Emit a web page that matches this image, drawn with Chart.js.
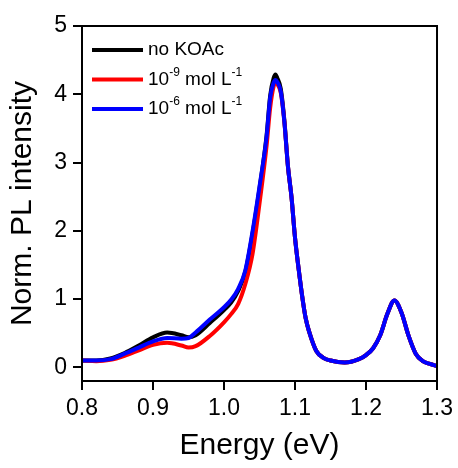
<!DOCTYPE html>
<html>
<head>
<meta charset="utf-8">
<script src="https://cdn.jsdelivr.net/npm/chart.js@4/dist/chart.umd.min.js"></script>
<style>
  html, body { margin: 0; padding: 0; background: #fff; }
  #wrap { width: 458px; height: 468px; }
</style>
</head>
<body>
<div id="wrap"><canvas id="plChart" width="458" height="468"></canvas></div>
<script>
// photon energy (eV), shared by all three spectra
const energy = [0.80, 0.82, 0.84, 0.86, 0.88, 0.90, 0.92, 0.94, 0.95, 0.96, 0.98, 1.00, 1.01, 1.02, 1.03, 1.04, 1.05, 1.06, 1.065, 1.07, 1.0725, 1.075, 1.08, 1.085, 1.09, 1.095, 1.10, 1.105, 1.11, 1.115, 1.12, 1.13, 1.14, 1.15, 1.17, 1.19, 1.20, 1.21, 1.22, 1.23, 1.24, 1.25, 1.26, 1.27, 1.28, 1.29, 1.30];

const noKOAc = [0.10, 0.10, 0.13, 0.21, 0.32, 0.44, 0.51, 0.47, 0.44, 0.47, 0.65, 0.84, 0.95, 1.12, 1.40, 1.95, 2.62, 3.40, 3.98, 4.24, 4.29, 4.24, 4.08, 3.62, 2.95, 2.50, 1.90, 1.45, 1.05, 0.72, 0.52, 0.24, 0.14, 0.10, 0.07, 0.12, 0.18, 0.28, 0.47, 0.78, 0.98, 0.80, 0.46, 0.20, 0.09, 0.05, 0.02];

const koac1e9 = [0.10, 0.09, 0.11, 0.17, 0.25, 0.33, 0.36, 0.32, 0.29, 0.31, 0.46, 0.66, 0.78, 0.93, 1.22, 1.65, 2.40, 3.25, 3.80, 4.12, 4.18, 4.15, 4.02, 3.60, 2.95, 2.50, 1.90, 1.45, 1.05, 0.72, 0.52, 0.24, 0.14, 0.10, 0.07, 0.12, 0.18, 0.28, 0.47, 0.78, 0.98, 0.80, 0.46, 0.20, 0.09, 0.05, 0.02];

const koac1e6 = [0.10, 0.10, 0.12, 0.20, 0.29, 0.38, 0.43, 0.42, 0.43, 0.51, 0.70, 0.88, 0.99, 1.15, 1.42, 1.98, 2.65, 3.38, 3.95, 4.17, 4.21, 4.18, 4.04, 3.60, 2.95, 2.50, 1.90, 1.45, 1.05, 0.72, 0.52, 0.24, 0.14, 0.10, 0.07, 0.12, 0.18, 0.28, 0.47, 0.78, 0.98, 0.80, 0.46, 0.20, 0.09, 0.05, 0.02];

const xTicks = [0.8, 0.9, 1.0, 1.1, 1.2, 1.3];
const yTicks = [0, 1, 2, 3, 4, 5];

// legend text pieces, "sup" parts are drawn raised
const legendLabels = [
  [{ t: "no KOAc" }],
  [{ t: "10" }, { t: "-9", sup: true }, { t: " mol L" }, { t: "-1", sup: true }],
  [{ t: "10" }, { t: "-6", sup: true }, { t: " mol L" }, { t: "-1", sup: true }]
];

const FONT = "'Liberation Sans', Arial, sans-serif";

const toPts = (ys) => energy.map((x, i) => ({ x: x, y: ys[i] }));

const framePlugin = {
  id: "frame",
  afterDraw(chart) {
    const { ctx, chartArea: a } = chart;
    ctx.save();
    ctx.strokeStyle = "#000";
    ctx.lineWidth = 2;
    ctx.strokeRect(a.left, a.top, a.right - a.left, a.bottom - a.top);

    // legend in the upper left corner
    const ds = chart.data.datasets;
    ctx.textBaseline = "middle";
    ctx.textAlign = "left";
    legendLabels.forEach((parts, i) => {
      const y = a.top + 24 + i * 29.5;
      ctx.strokeStyle = ds[i].borderColor;
      ctx.lineWidth = 4;
      ctx.beginPath();
      ctx.moveTo(a.left + 10, y);
      ctx.lineTo(a.left + 61, y);
      ctx.stroke();
      let x = a.left + 66;
      ctx.fillStyle = "#000";
      parts.forEach(p => {
        ctx.font = (p.sup ? "12px " : "19px ") + FONT;
        ctx.fillText(p.t, x, p.sup ? y - 7 : y);
        x += ctx.measureText(p.t).width;
      });
    });
    ctx.restore();
  }
};

new Chart(document.getElementById("plChart"), {
  type: "line",
  data: {
    datasets: [
      { label: "no KOAc", data: toPts(noKOAc), borderColor: "#000000", order: 3 },
      { label: "1e-9 mol/L", data: toPts(koac1e9), borderColor: "#ff0000", order: 2 },
      { label: "1e-6 mol/L", data: toPts(koac1e6), borderColor: "#0000ff", order: 1 }
    ]
  },
  options: {
    responsive: false,
    animation: false,
    layout: { padding: { left: 0, right: 20, top: 26, bottom: 0 } },
    elements: {
      point: { radius: 0 },
      line: { borderWidth: 4, cubicInterpolationMode: "monotone", fill: false }
    },
    plugins: {
      legend: { display: false },
      tooltip: { enabled: false }
    },
    scales: {
      x: {
        type: "linear",
        min: 0.8,
        max: 1.3,
        afterBuildTicks: (s) => { s.ticks = xTicks.map(v => ({ value: v })); },
        afterFit: (s) => { s.height = 87; },
        ticks: {
          color: "#000",
          font: { family: FONT, size: 23 },
          padding: 5,
          maxRotation: 0,
          callback: (v) => Number(v).toFixed(1)
        },
        grid: { drawOnChartArea: false, drawTicks: true, tickLength: 9, color: "#000", lineWidth: 2 },
        border: { display: true, color: "#000", width: 2 },
        title: {
          display: true,
          text: "Energy (eV)",
          color: "#000",
          font: { family: FONT, size: 30 },
          padding: { top: 3, bottom: 4 }
        }
      },
      y: {
        min: -0.2,
        max: 5,
        afterBuildTicks: (s) => { s.ticks = yTicks.map(v => ({ value: v })); },
        afterFit: (s) => { s.width = 82; },
        ticks: {
          color: "#000",
          font: { family: FONT, size: 23 },
          padding: 6,
          callback: (v) => String(v)
        },
        grid: { drawOnChartArea: false, drawTicks: true, tickLength: 9, color: "#000", lineWidth: 2 },
        border: { display: true, color: "#000", width: 2 },
        title: {
          display: true,
          text: "Norm. PL intensity",
          color: "#000",
          font: { family: FONT, size: 30 },
          padding: { top: 5, bottom: 4 }
        }
      }
    }
  },
  plugins: [framePlugin]
});
</script>
</body>
</html>
